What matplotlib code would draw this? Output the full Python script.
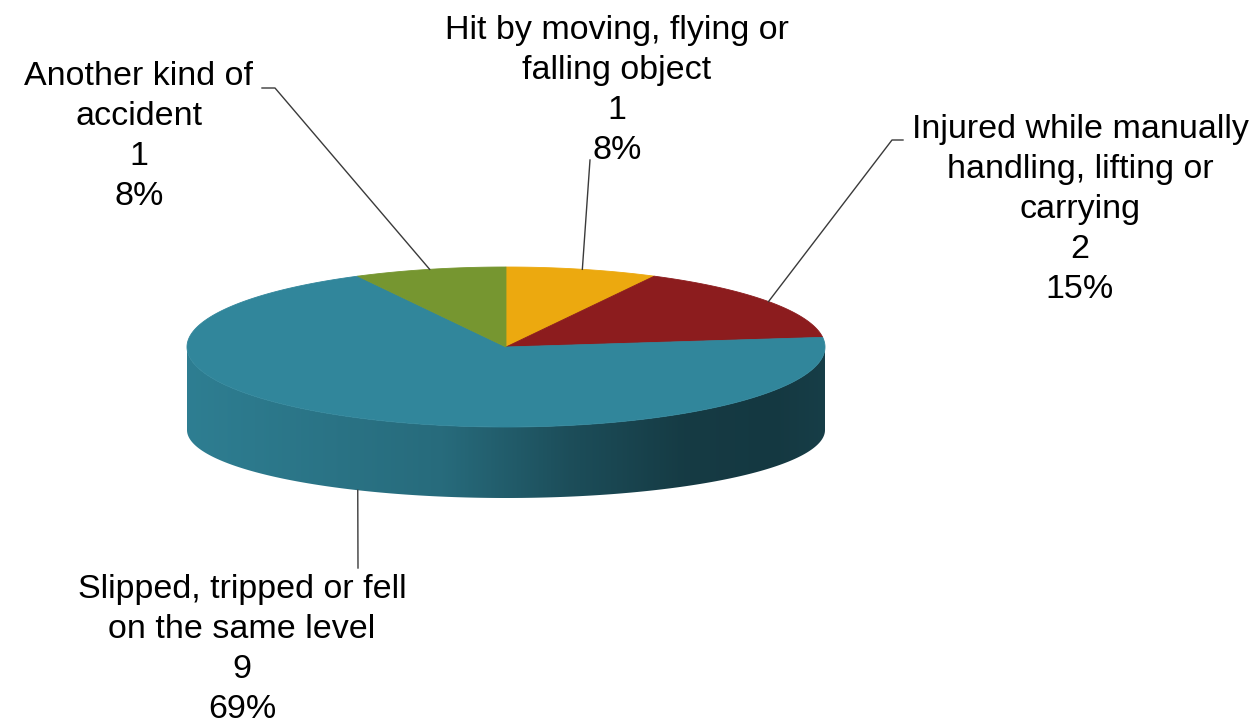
import numpy as np
import matplotlib
matplotlib.use("Agg")
import matplotlib.pyplot as plt
from matplotlib.colors import to_rgb
from matplotlib.patches import Polygon

plt.rcParams["font.family"] = ["Liberation Sans", "DejaVu Sans"]

# ── data ────────────────────────────────────────────────────────────────
categories = [
    "Hit by moving, flying or\nfalling object",
    "Injured while manually\nhandling, lifting or\ncarrying",
    "Slipped, tripped or fell\non the same level",
    "Another kind of\naccident",
]
counts = [1, 2, 9, 1]
colors = ["#ECA90F", "#8C1C1E", "#31869B", "#769630"]

# ── layout (pixel space of the 1260x723 canvas) ─────────────────────────
W, H = 1260, 723
CX, A = 506, 319            # centre x and horizontal radius
CY_TOP, B_TOP = 347, 80     # top face ellipse
CY_BOT, B_BOT = 430, 68     # bottom rim ellipse (perspective)

# label centre x and baseline of the last line
label_pos = [(617, 159), (1080, 298), (242, 718), (139, 205)]
leader_start = [[(590, 160)], [(903, 140), (892, 140)], [(358, 568)], [(262, 88), (275, 88)]]


def top_pt(theta):
    t = np.radians(theta)
    return CX + A * np.cos(t), CY_TOP - B_TOP * np.sin(t)


def bot_pt(theta):
    t = np.radians(theta)
    return CX + A * np.cos(t), CY_BOT - B_BOT * np.sin(t)


fig = plt.figure(figsize=(12.6, 7.23), dpi=100)
ax = fig.add_axes([0, 0, 1, 1])

total = sum(counts)
spans = np.array(counts) / total * 360.0
starts = 90 - np.concatenate([[0], np.cumsum(spans)[:-1]])
ends = starts - spans

# side wall (only the front half is visible)
xs = np.linspace(CX - A, CX + A, 500)
shade = np.interp((xs - (CX - A)) / (2 * A),
                  [0, 0.4, 0.6, 0.78, 0.92, 1.0],
                  [0.94, 0.8, 0.58, 0.44, 0.42, 0.46])
for start, end, col in zip(starts, ends, colors):
    for k in (-360, 0):
        lo, hi = max(end, -180 + k), min(start, k)
        if hi <= lo:
            continue
        th = np.linspace(lo, hi, 300)
        xt, yt = top_pt(th)
        xb, yb = bot_pt(th[::-1])
        poly = Polygon(np.column_stack([np.r_[xt, xb], np.r_[yt, yb]]),
                       closed=True, facecolor="none", edgecolor="none")
        ax.add_patch(poly)
        img = shade[None, :, None] * np.array(to_rgb(col))[None, None, :]
        im = ax.imshow(img, extent=(CX - A, CX + A, CY_BOT + B_BOT + 2, CY_TOP - 2),
                       aspect="auto", interpolation="bilinear", zorder=2)
        im.set_clip_path(poly)

# top face
for start, end, col in zip(starts, ends, colors):
    th = np.linspace(start, end, 300)
    x, y = top_pt(th)
    pts = np.column_stack([np.r_[CX, x], np.r_[CY_TOP, y]])
    ax.add_patch(Polygon(pts, closed=True, facecolor=col, edgecolor=col,
                         linewidth=0.6, zorder=3))

# labels + leader lines
for i, (cat, n) in enumerate(zip(categories, counts)):
    pct = round(100 * n / total)
    lx, ly = label_pos[i]
    ax.text(lx, ly, f"{cat}\n{n}\n{pct}%", ha="center", va="baseline",
            multialignment="center", fontsize=24.5, linespacing=1.37,
            color="black", zorder=5)
    mid = (starts[i] + ends[i]) / 2
    if np.sin(np.radians(mid)) < 0:
        anchor = bot_pt(mid)
    else:
        anchor = top_pt(mid)
    path = leader_start[i] + [anchor]
    px, py = zip(*path)
    ax.plot(px, py, color="#3a3a3a", linewidth=1.0, zorder=4)

ax.set_xlim(0, W)
ax.set_ylim(H, 0)
ax.axis("off")
fig.savefig("out.png", dpi=100, facecolor="white")
